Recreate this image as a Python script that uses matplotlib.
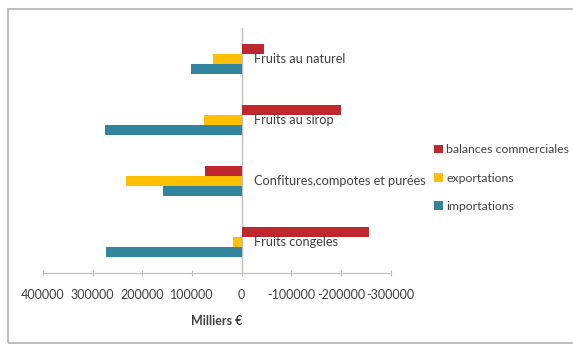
import numpy as np
import matplotlib
matplotlib.use("Agg")
import matplotlib.pyplot as plt
from matplotlib.patches import Rectangle

plt.rcParams['font.family'] = ['Lato', 'DejaVu Sans']

# Commerce extérieur des fruits transformés (milliers d'euros)
categories = ["Fruits au naturel", "Fruits au sirop",
              "Confitures,compotes et purées", "Fruits congeles"]
importations = [102000, 276000, 159000, 273000]
exportations = [58000, 76000, 233000, 17000]
balances = [-44000, -200000, 74000, -256000]

series = [("balances commerciales", balances, "#C0272D"),
          ("exportations", exportations, "#FFC000"),
          ("importations", importations, "#31859C")]

fig = plt.figure(figsize=(5.73, 3.45), dpi=100)
ax = fig.add_axes([0.075, 0.209, 0.607, 0.710])

y = np.arange(len(categories))
h = 0.163
for k, (name, vals, col) in enumerate(series):
    ax.barh(y + (k - 1) * h, vals, height=h, color=col, label=name)

ax.set_xlim(400000, -300000)
ax.set_ylim(3.5, -0.5)
ax.set_xticks([400000, 300000, 200000, 100000, 0, -100000, -200000, -300000])
ax.set_xticklabels([str(v) for v in ax.get_xticks().astype(int)])
ax.set_yticks([])

for s in ["top", "right", "left"]:
    ax.spines[s].set_visible(False)
ax.spines["bottom"].set_color("#BFBFBF")
ax.axvline(0, color="#BFBFBF", lw=1, zorder=0)
ax.tick_params(axis="x", direction="inout", length=5, color="#BFBFBF",
               labelsize=9, labelcolor="#404040", pad=9)

# libellés des catégories à droite de l'axe zéro
for i, name in enumerate(categories):
    ax.annotate(name, (0, i), xytext=(9, 0), textcoords="offset points",
                va="center", ha="left", fontsize=9.2, color="#404040")

ax.set_xlabel("Milliers €", fontweight="bold", fontsize=9,
              color="#404040", labelpad=10)

fig.legend(loc="center left", bbox_to_anchor=(0.747, 0.484), frameon=False,
           fontsize=8.8, handlelength=0.7, handleheight=0.7,
           handletextpad=0.3, labelspacing=1.4, borderpad=0,
           labelcolor="#404040")

fig.patches.append(Rectangle((8 / 573, 2 / 345), 570 / 573, 334 / 345,
                             transform=fig.transFigure, fill=False,
                             edgecolor="#BFBFBF", lw=1.5))

fig.savefig("out.png", dpi=100)
